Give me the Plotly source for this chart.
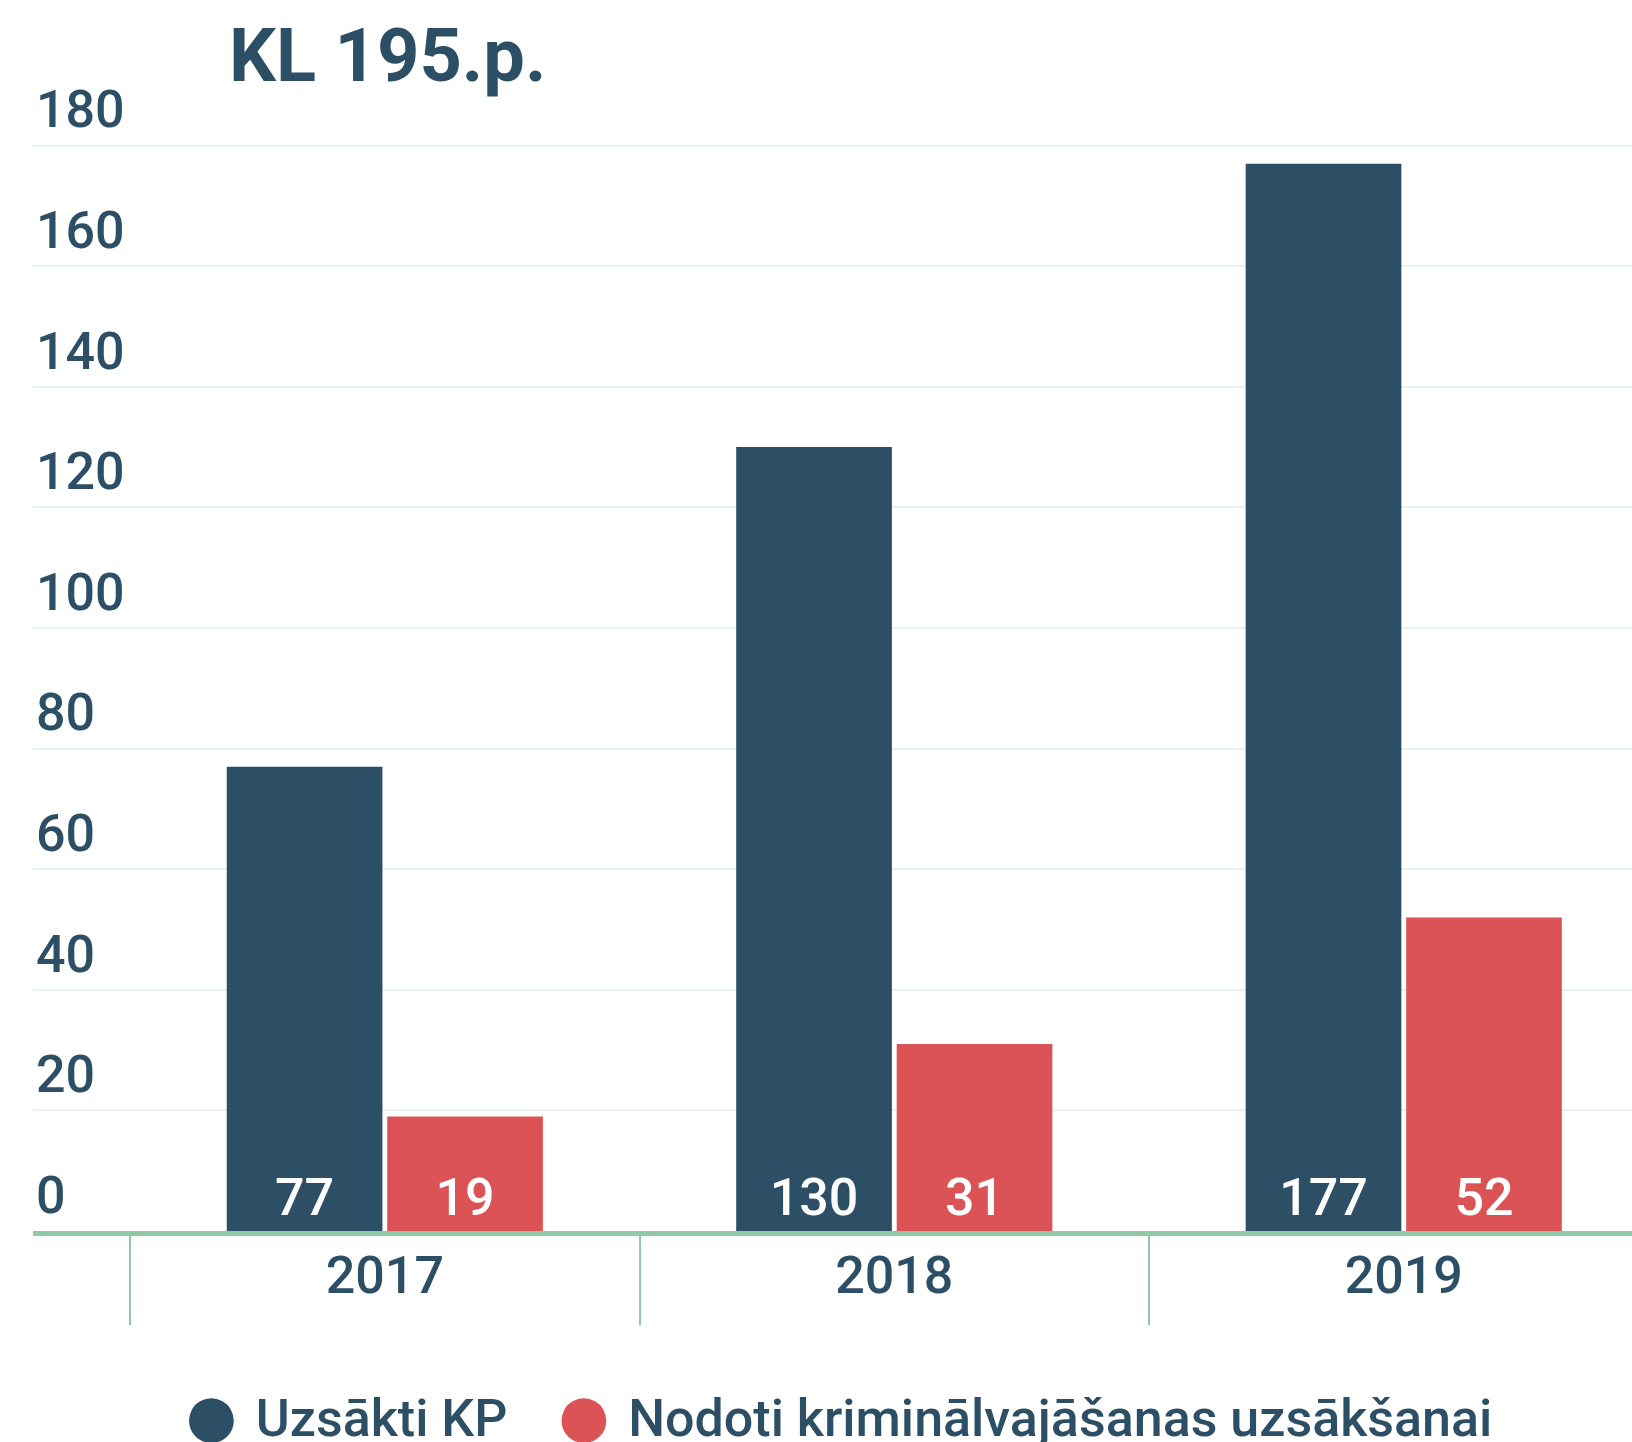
import plotly.graph_objects as go

# ---- data ----
years = ["2017", "2018", "2019"]
started = [77, 130, 177]          # Uzsākti KP
referred = [19, 31, 52]           # Nodoti kriminālvajāšanas uzsākšanai
series_names = ["Uzsākti KP", "Nodoti kriminālvajāšanas uzsākšanai"]
title_text = "KL 195.p."
y_ticks = [0, 20, 40, 60, 80, 100, 120, 140, 160, 180]

# ---- style ----
BLUE = "#2c4f66"
RED = "#dc5356"
TEXT = "#2c4f66"
GREEN = "#8fc9a5"
GRID = "#e8f3ef"
FONT = "Roboto"

W, H = 1632, 1442

fig = go.Figure()
for vals, color in [(started, BLUE), (referred, RED)]:
    fig.add_bar(
        x=years, y=vals,
        marker=dict(color=color, line=dict(width=0)),
        texttemplate="%{y}", textposition="inside", insidetextanchor="start",
        textangle=0, constraintext="none",
        textfont=dict(color="white", size=52, family=FONT, weight=500),
        showlegend=False, hoverinfo="skip",
    )

# legend entries (circle glyph + label)
for name, color in zip(series_names, [BLUE, RED]):
    fig.add_scatter(
        x=[None], y=[None], mode="markers",
        marker=dict(color="rgba(0,0,0,0)"),
        name=(f"<span style='color:{color};font-size:104px;baseline-shift:-14px'>●</span>"
              f" {name}"),
        hoverinfo="skip",
    )

fig.update_layout(
    width=W, height=H,
    margin=dict(l=33, r=0, t=60, b=211),
    plot_bgcolor="white", paper_bgcolor="white",
    barmode="group", bargap=0.37, bargroupgap=0.03,
    font=dict(family=FONT, color=TEXT, size=52),
    title=dict(
        text=title_text,
        font=dict(size=74, color=TEXT, family=FONT, weight="bold"),
        xref="container", x=229 / W, xanchor="left",
        yref="container", y=1 - 55 / H, yanchor="middle",
    ),
    xaxis=dict(
        type="category", range=[-0.6906, 2.448], automargin=False,
        showgrid=False, zeroline=False,
        showline=True, linecolor=GREEN, linewidth=5,
        ticks="outside", tickson="boundaries", ticklen=89,
        tickwidth=1.5, tickcolor=GREEN,
        tickfont=dict(size=52, color=TEXT, family=FONT, weight=500),
        ticklabelstandoff=-5,
    ),
    yaxis=dict(
        range=[0, 194.2], tickvals=y_ticks, automargin=False,
        showgrid=True, gridcolor=GRID, gridwidth=2,
        zeroline=False, showline=False, ticks="",
        ticklabelposition="inside top",
        tickfont=dict(size=52, color=TEXT, family=FONT, weight=500),
    ),
    legend=dict(
        orientation="h",
        xref="container", x=140 / W, xanchor="left",
        yref="container", y=1 - 1416 / H, yanchor="middle",
        font=dict(size=52, color=TEXT, family=FONT, weight=500),
        itemwidth=30, bgcolor="rgba(0,0,0,0)",
    ),
    hovermode=False,
)

fig.write_html(
    "out.html",
    config={"displayModeBar": False},
    post_script="document.body.style.margin='0px';",
)
